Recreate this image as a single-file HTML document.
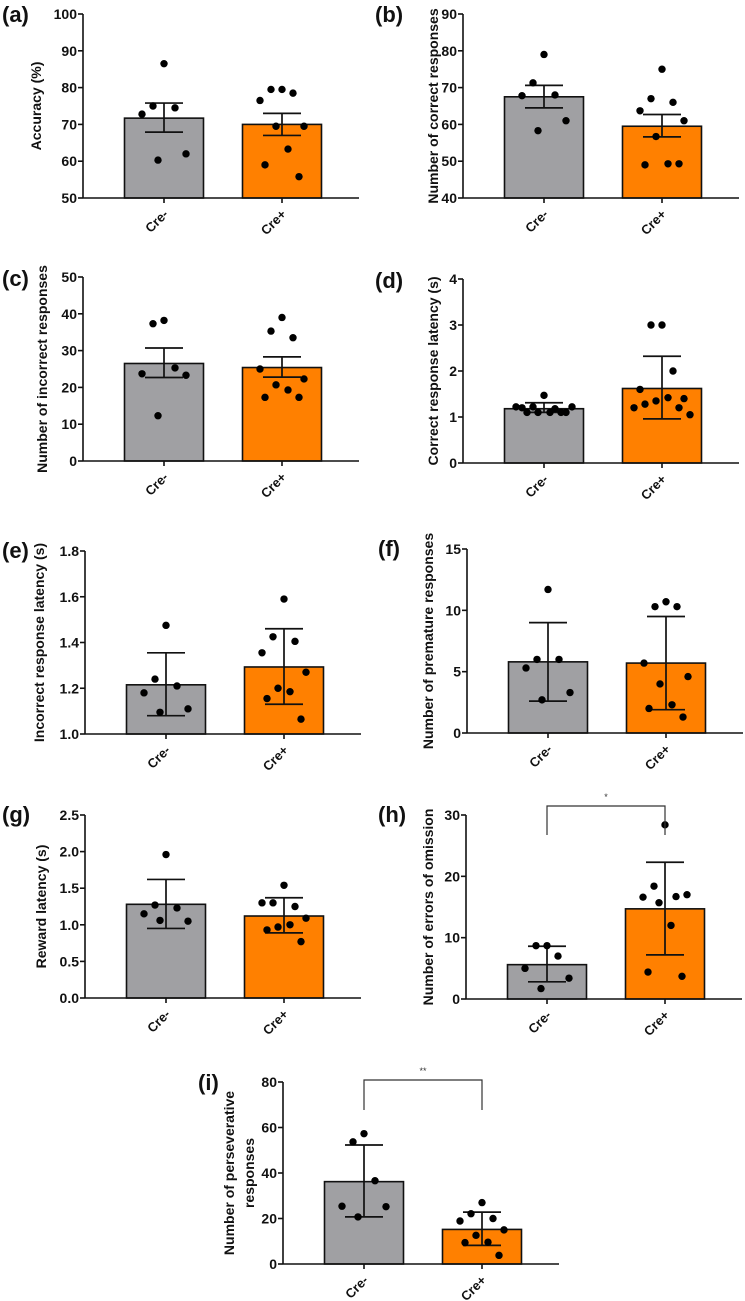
<!DOCTYPE html>
<html><head><meta charset="utf-8"><style>
html,body{margin:0;padding:0;background:#fff;}
svg{display:block;font-family:"Liberation Sans",Arial,sans-serif;font-weight:bold;}
</style></head><body>
<svg id="fig" width="745" height="1301" viewBox="0 0 745 1301"></svg>
<script>
const groups = ["Cre-","Cre+"];
// panel a
const aMeans=[71.7,70.0]; const aLo=[67.9,67.0]; const aHi=[75.8,73.0];
const aNeg=[86.5,75,74.5,72.8,62,60.3]; const aPos=[79.5,79.5,78.5,76.5,69.5,69.5,63.3,59,55.8];
const aTicks=[50,60,70,80,90,100];
// panel b
const bMeans=[67.5,59.5]; const bLo=[64.5,56.6]; const bHi=[70.6,62.7];
const bNeg=[79,71.3,68,67.8,61,58.3]; const bPos=[75,67,66,63.7,61,56.7,49.3,49,49.3];
const bTicks=[40,50,60,70,80,90];
// panel c
const cMeans=[26.5,25.4]; const cLo=[22.7,22.8]; const cHi=[30.7,28.3];
const cNeg=[38.2,37.3,25.3,23.7,23.3,12.3]; const cPos=[39,35.3,33.5,25,22.3,20.7,19.3,17.3,17.3];
const cTicks=[0,10,20,30,40,50];
// panel d
const dMeans=[1.18,1.62]; const dLo=[1.1,0.96]; const dHi=[1.31,2.32];
const dNeg=[1.47,1.22,1.18,1.2,1.1,1.1,1.1,1.1,1.1,1.22,1.22]; const dPos=[3,3,2,1.6,1.4,1.35,1.42,1.28,1.2,1.2,1.05];
const dTicks=[0,1,2,3,4];
// panel e
const eMeans=[1.215,1.293]; const eLo=[1.08,1.13]; const eHi=[1.355,1.46];
const eNeg=[1.475,1.24,1.21,1.18,1.11,1.095]; const ePos=[1.59,1.425,1.405,1.355,1.27,1.2,1.185,1.155,1.065];
const eTicks=[1.0,1.2,1.4,1.6,1.8];
// panel f
const fMeans=[5.8,5.7]; const fLo=[2.6,1.9]; const fHi=[9.0,9.5];
const fNeg=[11.7,6,6,5.3,3.3,2.7]; const fPos=[10.7,10.3,10.3,5.7,4.6,4.0,2.3,2.0,1.3];
const fTicks=[0,5,10,15];
// panel g
const gMeans=[1.28,1.12]; const gLo=[0.95,0.89]; const gHi=[1.62,1.37];
const gNeg=[1.96,1.27,1.23,1.15,1.05,1.06]; const gPos=[1.54,1.3,1.25,1.3,1.09,0.97,1.0,0.93,0.77];
const gTicks=[0.0,0.5,1.0,1.5,2.0,2.5];
// panel h
const hMeans=[5.6,14.7]; const hLo=[2.8,7.2]; const hHi=[8.6,22.3];
const hNeg=[8.7,8.7,7,5,3.4,1.7]; const hPos=[28.4,18.4,16.7,16.6,17,15.7,12,4.4,3.7];
const hTicks=[0,10,20,30];
// panel i
const iMeans=[36.2,15.2]; const iLo=[20.7,8.2]; const iHi=[52.3,22.8];
const iNeg=[57.3,53.7,36.6,25.4,25.2,20.7]; const iPos=[27,22.1,20,18.9,15,12.6,9.6,9.4,3.8];
const iTicks=[0,20,40,60,80];

const NS="http://www.w3.org/2000/svg";
const svg=document.getElementById('fig');
function mk(tag,attrs,parent){const e=document.createElementNS(NS,tag);for(const k in attrs)e.setAttribute(k,attrs[k]);(parent||svg).appendChild(e);return e;}

function panel(cfg){
  const g=mk('g',{});
  
  
  const t0=cfg.ticks[0], t1=cfg.ticks[cfg.ticks.length-1];
  const y=v=>cfg.bot-(v-t0)/(t1-t0)*(cfg.bot-cfg.top);
  const ax=cfg.ax;
  const centers=[ax+81,ax+199];
  const bw=79;
  const colors=["#a0a0a3","#ff8000"];
  const pts=[cfg.neg,cfg.pos];
  for(let k=0;k<2;k++){
    const r=mk('rect',{x:centers[k]-bw/2,y:y(cfg.means[k]),width:bw,height:cfg.bot-y(cfg.means[k]),fill:colors[k],stroke:'#111','stroke-width':1.6},g);
    
    
    const eb=mk('g',{stroke:'#111','stroke-width':1.7},g);
    
    
    mk('line',{x1:centers[k],x2:centers[k],y1:y(cfg.lo[k]),y2:y(cfg.hi[k])},eb);
    mk('line',{x1:centers[k]-19,x2:centers[k]+19,y1:y(cfg.lo[k]),y2:y(cfg.lo[k])},eb);
    mk('line',{x1:centers[k]-19,x2:centers[k]+19,y1:y(cfg.hi[k]),y2:y(cfg.hi[k])},eb);
    const offs=[0,-11,11,-22,22,-6,6,-17,17,-28,28];
    pts[k].forEach((v,i)=>{
      const c=mk('circle',{cx:centers[k]+offs[i%offs.length],cy:y(v),r:3.7,fill:'#000'},g);
      
      
    });
  }
  const yax=mk('g',{stroke:'#111','stroke-width':1.6},g);
  
  
  mk('line',{x1:ax,x2:ax,y1:cfg.top,y2:cfg.bot},yax);
  mk('line',{x1:ax,x2:ax+276,y1:cfg.bot,y2:cfg.bot},yax);
  cfg.ticks.forEach(tv=>{
    mk('line',{x1:ax-5,x2:ax,y1:y(tv),y2:y(tv)},yax);
    const tx=mk('text',{x:ax-6,y:y(tv)+5,'text-anchor':'end','font-size':14,fill:'#111'},g);
    tx.textContent=cfg.fmt?tv.toFixed(1):String(tv);
    
    
  });
  for(let k=0;k<2;k++){
    mk('line',{x1:centers[k],x2:centers[k],y1:cfg.bot,y2:cfg.bot+5,stroke:'#111','stroke-width':1.6},g);
    const lx=centers[k]+5, ly=cfg.bot+17;
    const tx=mk('text',{x:lx,y:ly,'text-anchor':'end','font-size':13,fill:'#111',transform:`rotate(-45 ${lx} ${ly})`},g);
    tx.textContent=groups[k];
    
    
  }
  const my=(cfg.top+cfg.bot)/2;
  cfg.title.forEach((line,li)=>{
    const tx0=cfg.tx+li*20;
    const tt=mk('text',{x:tx0,y:my,'text-anchor':'middle','font-size':14,fill:'#111',transform:`rotate(-90 ${tx0} ${my})`},g);
    tt.textContent=line;
    
    
  });
  const pl=mk('text',{x:cfg.lx,y:cfg.ly,'font-size':22,fill:'#111'},g);
  pl.textContent='('+cfg.id+')';
  
  
  if(cfg.sig){
    const b=mk('g',{stroke:'#333','stroke-width':1.2,fill:'none'},g);
    
    
    mk('path',{d:`M${centers[0]} ${cfg.sig.yb} V${cfg.sig.yt} H${centers[1]} V${cfg.sig.yb}`},b);
    const s=mk('text',{x:(centers[0]+centers[1])/2,y:cfg.sig.yt-6,'text-anchor':'middle','font-size':9,'font-weight':'normal',fill:'#333'},g);
    s.textContent=cfg.sig.txt;
    
    
  }
}
panel({id:'a',ax:83,top:14,bot:198,ticks:aTicks,means:aMeans,lo:aLo,hi:aHi,neg:aNeg,pos:aPos,title:['Accuracy (%)'],tx:41,lx:2,ly:22});
panel({id:'b',ax:463,top:14,bot:198,ticks:bTicks,means:bMeans,lo:bLo,hi:bHi,neg:bNeg,pos:bPos,title:['Number of correct responses'],tx:438,lx:375,ly:22});
panel({id:'c',ax:83,top:277,bot:461,ticks:cTicks,means:cMeans,lo:cLo,hi:cHi,neg:cNeg,pos:cPos,title:['Number of incorrect responses'],tx:47,lx:2,ly:286});
panel({id:'d',ax:463,top:279,bot:463,ticks:dTicks,means:dMeans,lo:dLo,hi:dHi,neg:dNeg,pos:dPos,title:['Correct response latency (s)'],tx:438,lx:375,ly:288});
panel({id:'e',ax:85,top:551,bot:734,ticks:eTicks,means:eMeans,lo:eLo,hi:eHi,neg:eNeg,pos:ePos,title:['Incorrect response latency (s)'],tx:44,lx:2,ly:558,fmt:1});
panel({id:'f',ax:467,top:549,bot:733,ticks:fTicks,means:fMeans,lo:fLo,hi:fHi,neg:fNeg,pos:fPos,title:['Number of premature responses'],tx:433,lx:378,ly:556});
panel({id:'g',ax:85,top:815,bot:998,ticks:gTicks,means:gMeans,lo:gLo,hi:gHi,neg:gNeg,pos:gPos,title:['Reward latency (s)'],tx:46,lx:2,ly:822,fmt:1});
panel({id:'h',ax:466,top:815,bot:999,ticks:hTicks,means:hMeans,lo:hLo,hi:hHi,neg:hNeg,pos:hPos,title:['Number of errors of omission'],tx:433,lx:378,ly:822,sig:{yt:806,yb:835,txt:'*'}});
panel({id:'i',ax:283,top:1082,bot:1264,ticks:iTicks,means:iMeans,lo:iLo,hi:iHi,neg:iNeg,pos:iPos,title:['Number of perseverative','responses'],tx:234,lx:198,ly:1090,sig:{yt:1080,yb:1110,txt:'**'}});
</script>
</body></html>
